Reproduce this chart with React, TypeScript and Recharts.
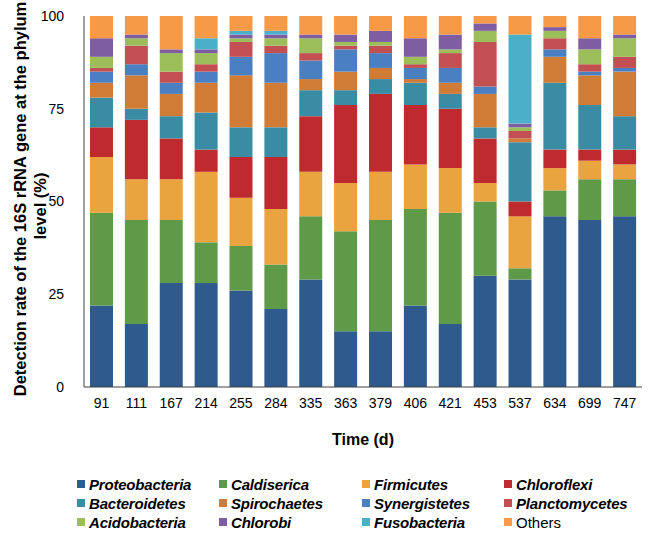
import React from 'react';
import { BarChart, Bar, XAxis, YAxis } from 'recharts';

const days = ['91', '111', '167', '214', '255', '284', '335', '363', '379', '406', '421', '453', '537', '634', '699', '747'];

const proteobacteria = [22, 17, 28, 28, 26, 21, 29, 15, 15, 22, 17, 30, 29, 46, 45, 46];
const caldiserica = [25, 28, 17, 11, 12, 12, 17, 27, 30, 26, 30, 20, 3, 7, 11, 10];
const firmicutes = [15, 11, 11, 19, 13, 15, 12, 13, 13, 12, 12, 5, 14, 6, 5, 4];
const chloroflexi = [8, 16, 11, 6, 11, 14, 15, 21, 21, 16, 16, 12, 4, 5, 3, 4];
const bacteroidetes = [8, 3, 6, 10, 8, 8, 7, 4, 4, 6, 4, 3, 16, 18, 12, 9];
const spirochaetes = [4, 9, 6, 8, 14, 12, 3, 5, 3, 1, 3, 9, 1, 7, 8, 12];
const synergistetes = [3, 3, 3, 3, 5, 8, 5, 6, 4, 3, 4, 2, 0, 2, 1, 1];
const planctomycetes = [1, 5, 3, 2, 4, 2, 2, 1, 2, 1, 4, 12, 2, 3, 2, 3];
const acidobacteria = [3, 2, 5, 3, 1, 2, 4, 1, 1, 2, 1, 3, 1, 2, 4, 5];
const chlorobi = [5, 1, 1, 1, 1, 1, 1, 2, 3, 5, 4, 2, 1, 1, 3, 1];
const fusobacteria = [0, 0, 0, 3, 1, 1, 0, 0, 0, 0, 0, 0, 24, 0, 0, 0];
const others = [6, 5, 9, 6, 4, 4, 5, 5, 4, 6, 5, 2, 5, 3, 6, 5];

const yTicks = [0, 25, 50, 75, 100];

const series = [
  { name: 'Proteobacteria', values: proteobacteria, color: '#2F5A8E', italic: true },
  { name: 'Caldiserica', values: caldiserica, color: '#5E9A48', italic: true },
  { name: 'Firmicutes', values: firmicutes, color: '#E9A33F', italic: true },
  { name: 'Chloroflexi', values: chloroflexi, color: '#BE2A2D', italic: true },
  { name: 'Bacteroidetes', values: bacteroidetes, color: '#3A8CA4', italic: true },
  { name: 'Spirochaetes', values: spirochaetes, color: '#D07C36', italic: true },
  { name: 'Synergistetes', values: synergistetes, color: '#4A7FC1', italic: true },
  { name: 'Planctomycetes', values: planctomycetes, color: '#C24F51', italic: true },
  { name: 'Acidobacteria', values: acidobacteria, color: '#9BBE5B', italic: true },
  { name: 'Chlorobi', values: chlorobi, color: '#7E5DA3', italic: true },
  { name: 'Fusobacteria', values: fusobacteria, color: '#4BAFC9', italic: true },
  { name: 'Others', values: others, color: '#F79A48', italic: false },
];

const data = days.map((day, i) => {
  const row: Record<string, string | number> = { day };
  series.forEach((s) => { row[s.name] = s.values[i]; });
  return row;
});

const FONT = '"Liberation Sans", Arial, sans-serif';
const AXIS = '#404040';

const legendCols = [77, 219, 362, 504];
const legendRows = [484, 503, 522];

export default function App() {
  return (
    <div style={{ position: 'absolute', left: 0, top: 0, width: 655, height: 539, background: '#fff', fontFamily: FONT }}>
      <BarChart width={655} height={539} data={data} margin={{ top: 16, right: 13, bottom: 122, left: 0 }}>
        <XAxis
          dataKey="day"
          height={30}
          tickLine={false}
          tickMargin={5}
          axisLine={{ stroke: AXIS }}
          tick={{ fill: '#000', fontSize: 14, fontFamily: FONT }}
          interval={0}
        />
        <XAxis xAxisId="top" dataKey="day" orientation="top" height={0} tick={false} tickLine={false} axisLine={{ stroke: AXIS }} />
        <YAxis
          width={84}
          domain={[0, 100]}
          ticks={yTicks}
          tickLine={false}
          tickMargin={14}
          axisLine={{ stroke: AXIS }}
          tick={{ fill: '#000', fontSize: 14, fontFamily: FONT }}
        />
        <YAxis yAxisId="right" orientation="right" width={0} domain={[0, 100]} tick={false} tickLine={false} axisLine={{ stroke: AXIS }} />
        {series.map((s) => (
          <Bar key={s.name} dataKey={s.name} stackId="a" fill={s.color} barSize={23} isAnimationActive={false} />
        ))}
      </BarChart>

      <svg width={655} height={539} style={{ position: 'absolute', left: 0, top: 0, pointerEvents: 'none' }}>
        <text
          transform="translate(20,199) rotate(-90)"
          textAnchor="middle"
          dominantBaseline="central"
          fontFamily={FONT}
          fontWeight="bold"
          fontSize={16.5}
        >
          Detection rate of the 16S rRNA gene at the phylum
        </text>
        <text
          transform="translate(40,206) rotate(-90)"
          textAnchor="middle"
          dominantBaseline="central"
          fontFamily={FONT}
          fontWeight="bold"
          fontSize={16.5}
        >
          level (%)
        </text>
        <text x={363} y={439} textAnchor="middle" dominantBaseline="central" fontFamily={FONT} fontWeight="bold" fontSize={16}>
          Time (d)
        </text>
      </svg>

      {series.map((s, i) => {
        const x = legendCols[i % 4];
        const y = legendRows[Math.floor(i / 4)];
        return (
          <div key={s.name} style={{ position: 'absolute', left: x, top: y - 10, height: 20, display: 'flex', alignItems: 'center', whiteSpace: 'nowrap' }}>
            <span style={{ display: 'inline-block', width: 8, height: 8, background: s.color, marginRight: 4 }} />
            <span
              style={{
                fontSize: 15,
                fontWeight: s.italic ? 'bold' : 'normal',
                fontStyle: s.italic ? 'italic' : 'normal',
                letterSpacing: s.italic ? -0.2 : 0,
                color: '#000',
              }}
            >
              {s.name}
            </span>
          </div>
        );
      })}
    </div>
  );
}
